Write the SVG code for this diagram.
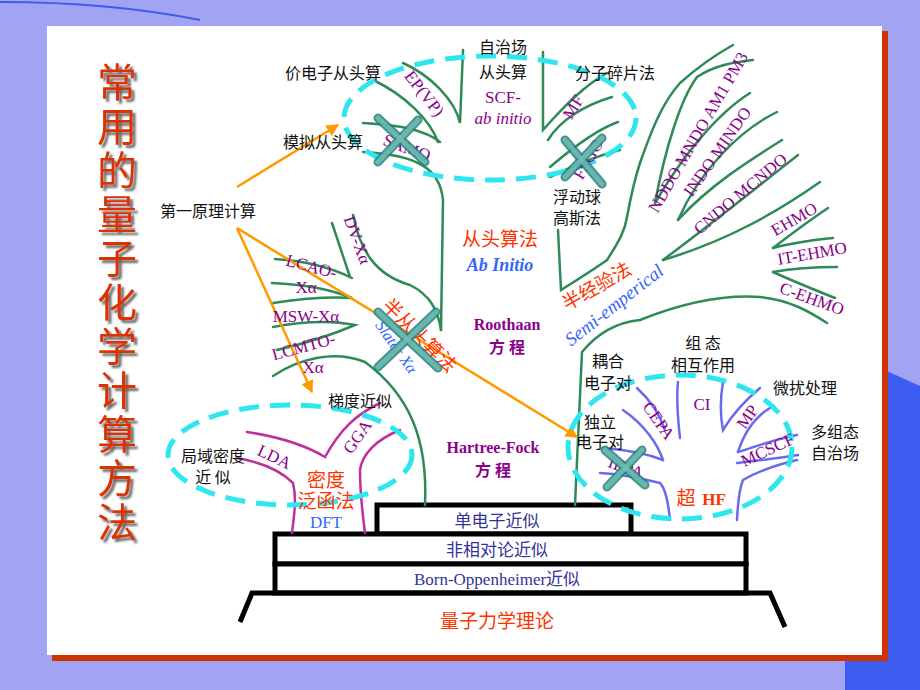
<svg xmlns="http://www.w3.org/2000/svg" width="920" height="690" viewBox="0 0 920 690">
<defs>
<marker id="ah" viewBox="0 0 10 10" refX="9" refY="5" markerWidth="5" markerHeight="5" orient="auto"><path d="M0,0L10,5L0,10z" fill="#ff9900"/></marker>
<filter id="sh" x="-20%" y="-5%" width="150%" height="110%"><feDropShadow dx="3" dy="3" stdDeviation="1" flood-color="#666"/></filter>
<style>
.g{fill:none;stroke:#2e8b57;stroke-width:2.5;stroke-linecap:round}
.b{fill:none;stroke:#6a6af0;stroke-width:2.5;stroke-linecap:round}
.m{fill:none;stroke:#c0309a;stroke-width:2.5;stroke-linecap:round}
.el{fill:none;stroke:#2ee6f0;stroke-width:5;stroke-dasharray:20 11}
.bx{fill:#fff;stroke:#000;stroke-width:5}
.ar{stroke:#ff9900;stroke-width:2.5;marker-end:url(#ah)}
.x{stroke:#2a7f7f;stroke-width:9;stroke-linecap:round;opacity:0.85}
.xi{stroke:#6fbfb4;stroke-width:5;stroke-linecap:round;opacity:0.85}
text{font-family:"Liberation Serif","Noto Sans CJK SC",serif}
.k{font-size:16px;fill:#111;font-family:"Noto Sans CJK SC",sans-serif}
.p{font-size:17px;fill:#880088}
.pb{font-size:16px;fill:#8b008b;font-weight:bold}
.r{font-size:19px;fill:#ff3300;font-family:"Noto Sans CJK SC",sans-serif}
.bl{fill:#3366ff;font-style:italic}
.n{font-size:17px;fill:#333399}
.t{font-size:40px;fill:#dd3300;font-family:"Noto Sans CJK SC",sans-serif}
</style>
</defs>
<rect width="920" height="690" fill="#a3a3f3"/>
<path d="M880,368 L920,386 L920,690 L845,690 L845,655 L880,655z" fill="#3d5cf0"/>
<path d="M0,2 Q110,2 200,20" fill="none" stroke="#3d5cf0" stroke-width="2"/>
<rect x="52" y="31" width="836" height="630" fill="#cc3300"/>
<rect x="47" y="26" width="835" height="629" fill="#fff"/>

<g id="title" filter="url(#sh)">
<text class="t" x="117" y="62" writing-mode="tb" letter-spacing="4">常用的量子化学计算方法</text>
</g>

<g id="base">
<rect class="bx" x="377" y="505" width="254" height="29"/>
<rect class="bx" x="275" y="534" width="471" height="30"/>
<rect class="bx" x="275" y="564" width="471" height="29"/>
<path d="M240,622 L252,593 L770,593 L785,627" fill="none" stroke="#000" stroke-width="5"/>
<text class="n" x="497" y="527" text-anchor="middle" font-family="Noto Sans CJK SC,sans-serif">单电子近似</text>
<text class="n" x="497" y="556" text-anchor="middle">非相对论近似</text>
<text class="n" x="497" y="585" text-anchor="middle">Born-Oppenheimer近似</text>
<text class="r" x="497" y="628" text-anchor="middle" font-size="22">量子力学理论</text>
</g>

<g id="connectors">
<path class="g" d="M425,505 C428,440 410,395 365,362 C335,350 300,358 273,376"/>
<path class="g" d="M441,330 L443,200 C440,170 420,155 363,152"/>
<path class="g" d="M363,123 C400,125 425,130 440,142"/>
<path class="g" d="M373,80 C405,95 430,120 438,142"/>
<path class="g" d="M403,63 C430,75 455,100 460,123 L463,50"/>
<path class="g" d="M543,52 L543,130 C565,105 585,85 607,73"/>
<path class="g" d="M612,97 C585,105 560,120 548,140"/>
<path class="g" d="M550,167 C570,150 595,130 618,122"/>
<path class="g" d="M550,177 C575,165 600,155 620,150"/>
<path class="g" d="M353,215 C360,250 375,275 410,285 C430,295 438,310 441,330"/>
<path class="g" d="M332,223 L350,277"/>
<path class="g" d="M275,259 Q320,262 352,278"/>
<path class="g" d="M272,283 Q320,285 352,298 Q320,296 273,303"/>
<path class="g" d="M273,327 Q320,318 355,325 Q320,340 277,350"/>
<path class="g" d="M575,505 C578,440 580,390 582,352 C600,330 620,322 640,320 C690,300 730,295 760,297 C790,300 810,312 827,323"/>
<path class="g" d="M558,230 L561,290 C585,275 600,265 607,260 C620,240 625,230 627,217 C632,190 636,175 640,163 C655,120 665,100 680,83 C700,65 715,55 733,45"/>
<path class="g" d="M655,203 C665,150 680,100 697,77 C715,65 735,62 753,60"/>
<path class="g" d="M655,203 C680,160 715,115 750,93"/>
<path class="g" d="M678,220 C700,170 740,130 777,112"/>
<path class="g" d="M678,220 C710,185 750,160 782,140"/>
<path class="g" d="M663,260 C710,225 760,185 798,155"/>
<path class="g" d="M663,260 C730,240 780,210 820,182"/>
<path class="g" d="M773,248 C790,235 810,220 828,208"/>
<path class="g" d="M773,248 C795,242 815,240 833,238"/>
<path class="g" d="M773,272 C795,268 815,267 837,267"/>
<path class="g" d="M773,272 C795,282 815,290 835,298"/>
<path class="b" d="M670,520 C668,500 665,488 660,483 C640,478 620,474 600,473"/>
<path class="b" d="M603,448 C630,450 650,455 663,460"/>
<path class="b" d="M623,410 C645,425 658,445 663,460"/>
<path class="b" d="M637,388 C650,400 660,415 665,430"/>
<path class="b" d="M678,382 C676,400 678,420 680,438"/>
<path class="b" d="M723,382 C720,400 720,415 723,430 C735,410 748,398 760,388"/>
<path class="b" d="M738,452 C745,430 755,417 770,408"/>
<path class="b" d="M738,452 C760,445 780,438 797,435"/>
<path class="b" d="M737,463 C760,460 780,458 798,455"/>
<path class="b" d="M737,520 C738,500 740,487 743,480 C760,470 780,464 797,460"/>
<path class="m" d="M247,432 C280,437 305,445 325,457 C340,430 355,415 380,403"/>
<path class="m" d="M237,458 C260,462 280,470 293,483 C297,500 294,515 292,533"/>
<path class="m" d="M400,430 C375,440 362,455 360,470 C360,490 362,510 365,533"/>
<line class="ar" x1="237" y1="187" x2="338" y2="125"/>
<line class="ar" x1="237" y1="228" x2="312" y2="392"/>
<line class="ar" x1="237" y1="228" x2="577" y2="437"/>
</g>

<g id="ellipses">
<ellipse class="el" cx="490" cy="118" rx="146" ry="62"/>
<ellipse class="el" cx="290" cy="455" rx="122" ry="50"/>
<ellipse class="el" cx="680" cy="447" rx="112" ry="72"/>
</g>

<g id="labels">
<text class="k" x="285" y="79">价电子从头算</text>
<text class="k" x="503" y="53" text-anchor="middle">自治场</text>
<text class="k" x="503" y="78" text-anchor="middle">从头算</text>
<text class="k" x="575" y="79">分子碎片法</text>
<text class="k" x="283" y="148">模拟从头算</text>
<text class="k" x="160" y="217" font-size="21">第一原理计算</text>
<text class="p" transform="translate(420,97) rotate(52)" text-anchor="middle">EP(VP)</text>
<text class="p" x="503" y="103" text-anchor="middle" font-size="18">SCF-</text>
<text class="p" x="503" y="124" text-anchor="middle" font-size="18" font-style="italic">ab initio</text>
<text class="p" transform="translate(405,153) rotate(20)" text-anchor="middle">SAMO</text>
<text class="p" transform="translate(578,110) rotate(-58)" text-anchor="middle">MF</text>
<text class="p" transform="translate(593,162) rotate(-60)" text-anchor="middle">FSGO</text>
<text class="k" x="577" y="203" text-anchor="middle">浮动球</text>
<text class="k" x="577" y="224" text-anchor="middle">高斯法</text>
<text class="p" transform="translate(703,135) rotate(-60)" text-anchor="middle" font-size="19">NDDO MNDO AM1 PM3</text>
<text class="p" transform="translate(722,155) rotate(-55)" text-anchor="middle" font-size="19">INDO  MINDO</text>
<text class="p" transform="translate(744,198) rotate(-40)" text-anchor="middle" font-size="19">CNDO MCNDO</text>
<text class="p" transform="translate(797,224) rotate(-30)" text-anchor="middle" font-size="18">EHMO</text>
<text class="p" transform="translate(813,259) rotate(-10)" text-anchor="middle" font-size="18">IT-EHMO</text>
<text class="p" transform="translate(810,304) rotate(20)" text-anchor="middle" font-size="18">C-EHMO</text>
<text class="r" x="500" y="246" text-anchor="middle">从头算法</text>
<text class="bl" x="500" y="271" text-anchor="middle" font-size="18" font-weight="bold">Ab Initio</text>
<text class="r" transform="translate(600,292) rotate(-30)" text-anchor="middle" font-size="18">半经验法</text>
<text class="bl" transform="translate(618,310) rotate(-38)" text-anchor="middle" font-size="19">Semi-emperical</text>
<text class="p" transform="translate(352,242) rotate(70)" text-anchor="middle">DV-Xα</text>
<text class="p" transform="translate(310,272) rotate(15)" text-anchor="middle">LCAO-</text>
<text class="p" x="306" y="293" text-anchor="middle">Xα</text>
<text class="p" x="306" y="322" text-anchor="middle">MSW-Xα</text>
<text class="p" transform="translate(305,352) rotate(-15)" text-anchor="middle">LCMTO-</text>
<text class="p" x="313" y="373" text-anchor="middle">Xα</text>
<text class="r" transform="translate(415,340) rotate(45)" text-anchor="middle" font-size="16">半从头算法</text>
<text class="bl" transform="translate(392,350) rotate(55)" text-anchor="middle" font-size="16">Slater Xα</text>
<text class="pb" x="507" y="330" text-anchor="middle">Roothaan</text>
<text class="pb" x="507" y="353" text-anchor="middle" font-family="Noto Sans CJK SC,sans-serif">方 程</text>
<text class="pb" x="493" y="453" text-anchor="middle">Hartree-Fock</text>
<text class="pb" x="493" y="476" text-anchor="middle" font-family="Noto Sans CJK SC,sans-serif">方 程</text>
<text class="k" x="360" y="407" text-anchor="middle">梯度近似</text>
<text class="k" x="213" y="462" text-anchor="middle">局域密度</text>
<text class="k" x="213" y="483" text-anchor="middle">近 似</text>
<text class="p" transform="translate(272,462) rotate(25)" text-anchor="middle">LDA</text>
<text class="p" transform="translate(362,440) rotate(-55)" text-anchor="middle">GGA</text>
<text class="r" x="326" y="487" text-anchor="middle" font-size="17">密度</text>
<text class="r" x="326" y="508" text-anchor="middle" font-size="17">泛函法</text>
<text x="326" y="528" text-anchor="middle" font-size="17" fill="#3366ff" font-family="Liberation Sans,sans-serif">DFT</text>
<text class="k" x="608" y="367" text-anchor="middle">耦合</text>
<text class="k" x="608" y="389" text-anchor="middle">电子对</text>
<text class="k" x="703" y="349" text-anchor="middle">组 态</text>
<text class="k" x="703" y="371" text-anchor="middle">相互作用</text>
<text class="k" x="805" y="394" text-anchor="middle">微扰处理</text>
<text class="k" x="600" y="428" text-anchor="middle">独立</text>
<text class="k" x="600" y="448" text-anchor="middle">电子对</text>
<text class="k" x="835" y="438" text-anchor="middle">多组态</text>
<text class="k" x="835" y="459" text-anchor="middle">自治场</text>
<text class="p" transform="translate(654,424) rotate(55)" text-anchor="middle">CEPA</text>
<text class="p" x="702" y="410" text-anchor="middle">CI</text>
<text class="p" transform="translate(752,420) rotate(-55)" text-anchor="middle">MP</text>
<text class="p" transform="translate(770,455) rotate(-25)" text-anchor="middle">MCSCF</text>
<text class="p" transform="translate(624,473) rotate(20)" text-anchor="middle">IEPA</text>
<text class="r" x="686" y="505" text-anchor="middle" font-size="18">超</text>
<text x="714" y="505" text-anchor="middle" font-size="17" font-weight="bold" fill="#ff3300" font-family="Liberation Sans,sans-serif">HF</text>
</g>

<g id="crosses">
<line class="x" x1="378" y1="118" x2="425" y2="162"/><line class="x" x1="378" y1="162" x2="418" y2="120"/>
<line class="xi" x1="378" y1="118" x2="425" y2="162"/><line class="xi" x1="378" y1="162" x2="418" y2="120"/>
<line class="x" x1="565" y1="140" x2="602" y2="184"/><line class="x" x1="565" y1="177" x2="602" y2="138"/>
<line class="xi" x1="565" y1="140" x2="602" y2="184"/><line class="xi" x1="565" y1="177" x2="602" y2="138"/>
<line class="x" x1="378" y1="312" x2="438" y2="368"/><line class="x" x1="378" y1="367" x2="436" y2="312"/>
<line class="xi" x1="378" y1="312" x2="438" y2="368"/><line class="xi" x1="378" y1="367" x2="436" y2="312"/>
<line class="x" x1="605" y1="450" x2="645" y2="485"/><line class="x" x1="607" y1="487" x2="642" y2="450"/>
<line class="xi" x1="605" y1="450" x2="645" y2="485"/><line class="xi" x1="607" y1="487" x2="642" y2="450"/>
</g>
</svg>
